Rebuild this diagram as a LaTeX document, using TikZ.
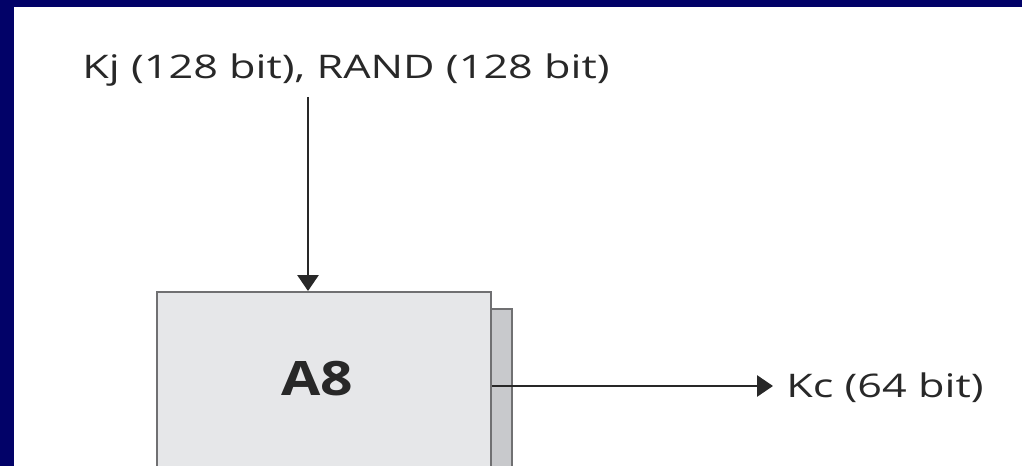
\documentclass[tikz,border=0pt]{standalone}
\usepackage{fontspec}
\setmainfont[FakeStretch=1.33]{Open Sans}
\newfontfamily\blockfont[FakeStretch=1.2]{Open Sans}
\usetikzlibrary{arrows.meta}
\definecolor{frame}{RGB}{2,2,104}
\definecolor{boxfill}{RGB}{230,231,233}
\definecolor{shadefill}{RGB}{200,201,204}
\definecolor{edge}{RGB}{112,112,114}
\definecolor{ink}{RGB}{40,40,40}

\begin{document}
\begin{tikzpicture}[
  x=0.02cm, y=-0.02cm,
  every node/.style={align=center, text=ink, font=\fontsize{18.5}{22}\selectfont},
  block/.style={draw=edge, line width=1.3pt, fill=boxfill, inner sep=0pt,
                minimum width=6.68cm, minimum height=6.2cm, anchor=north west},
  shade/.style={draw=edge, line width=1.3pt, fill=shadefill, inner sep=0pt,
                minimum width=0.42cm, minimum height=6.2cm, anchor=north west},
  lbl/.style={anchor=west, text height=13pt, text depth=0pt, inner ysep=0pt},
  arr/.style={-{Triangle[length=9pt, width=12pt]}, line width=1pt, draw=ink}
]
  \useasboundingbox (0,0) rectangle (1022,466);
  \clip (0,0) rectangle (1022,466);

  % frame of the slide
  \fill[frame] (0,0) rectangle (1022,7);
  \fill[frame] (0,0) rectangle (14,466);

  \node[shade] (sh) at (490,308) {};
  \node[block] (a8) at (156,291) {};
  \node[font=\blockfont\bfseries\fontsize{27}{32}\selectfont,
        text height=19.5pt, text depth=0pt, inner sep=0pt] (name) at (317,378) {A8};

  \node[lbl, inner xsep=0pt] (keys) at (82,67) {Kj (128 bit), RAND (128 bit)};
  \node[lbl, inner xsep=0.26cm] (kc) at (773,386) {Kc (64 bit)};

  \coordinate (in) at (308,97);
  \draw[arr] (in) -- (in |- a8.north);
  \draw[arr] (a8.east |- kc.west) -- (kc.west);
\end{tikzpicture}
\end{document}
